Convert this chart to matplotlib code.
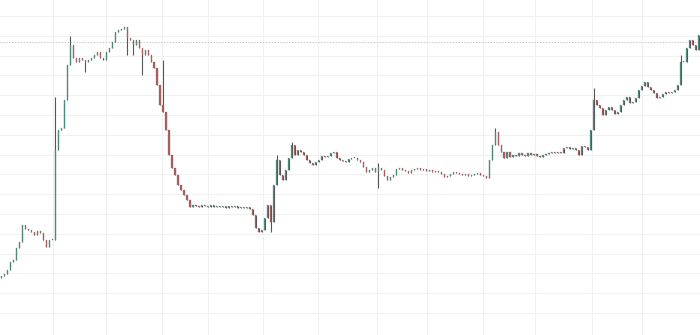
import matplotlib
matplotlib.use("Agg")
import matplotlib.pyplot as plt
import numpy as np

# Closing prices (arbitrary price units), one per candle
closes = [
    59, 61, 65, 73, 75, 87, 93, 110, 106, 105, 103, 100, 104, 102, 95, 88, 95, 95,
    185, 205, 207, 235, 270, 290, 277, 273, 277, 275, 273, 275, 277, 280, 283, 277,
    275, 283, 287, 293, 303, 305, 306, 308, 297, 295, 290, 295, 287, 280, 285, 280,
    273, 267, 250, 230, 223, 205, 180, 167, 160, 150, 145, 140, 135, 128, 130, 129,
    128, 130, 129, 128, 130, 128, 129, 128, 129, 127, 129, 128, 129, 127, 128, 127,
    128, 126, 120, 107, 103, 105, 117, 130, 113, 150, 175, 160, 155, 165, 177, 190,
    180, 185, 183, 180, 175, 172, 170, 173, 175, 179, 178, 179, 182, 183, 177, 175,
    174, 173, 176, 177, 177, 175, 173, 168, 163, 165, 167, 163, 167, 165, 159, 155,
    158, 160, 166, 167, 165, 164, 162, 165, 166, 167, 165, 166, 164, 165, 163, 164,
    163, 161, 158, 159, 161, 163, 162, 161, 160, 161, 159, 160, 161, 162, 160, 159,
    157, 175, 190, 203, 190, 183, 177, 183, 178, 180, 179, 182, 180, 179, 182, 180,
    181, 179, 178, 180, 181, 182, 183, 182, 183, 182, 187, 188, 186, 187, 185, 180,
    189, 188, 185, 205, 235, 230, 227, 220, 225, 228, 225, 221, 223, 230, 235, 238,
    232, 233, 237, 245, 249, 253, 248, 245, 242, 237, 238, 241, 243, 242, 243, 245,
    250, 273, 273, 287, 295, 290, 285, 300,
]
first_open = 57

# Notable wick extremes: candle index -> (high, low)
wick_extremes = {
    18: (238, 95), 23: (299, None), 28: (None, 263), 42: (None, 280),
    44: (None, 280), 47: (None, 260), 54: (275, None), 90: (None, 103),
    92: (180, None), 97: (193, None), 126: (172, 147), 165: (207, None),
    198: (247, None), 227: (280, None),
}

# Grid positions (time ticks in candle index, price levels)
time_ticks = [17.2, 35, 53.7, 69, 87.4, 105.8, 125.6, 142.3, 161, 178.4, 197.5, 214.2]
price_levels = [22, 41.8, 61.6, 81.4, 101.2, 121, 140.8, 160.6, 180.4, 200.2,
                220, 239.8, 259.6, 279.4, 299.2, 319]
last_price_line = 293

opens = [first_open] + closes[:-1]
n = len(closes)

fig = plt.figure(figsize=(7.0, 3.35), dpi=100)
ax = fig.add_axes([0, 0, 1, 1])
ax.set_xlim(-0.5, n - 0.5)
ax.set_ylim(0, 335)

for t in time_ticks:
    ax.axvline(t, color="#f1f1f1", lw=0.8, zorder=0)
for p in price_levels:
    ax.axhline(p, color="#f1f1f1", lw=0.8, zorder=0)
ax.axhline(last_price_line, color="#c8c8c8", lw=0.7, ls=(0, (1.5, 1.5)), zorder=1)

up_col = "#4d8a7c"
dn_col = "#a55f5c"
wick_col = "#555555"
for i in range(n):
    o, c = opens[i], closes[i]
    hi, lo = max(o, c), min(o, c)
    if i in wick_extremes:
        h, l = wick_extremes[i]
        if h is not None:
            hi = max(hi, h)
        if l is not None:
            lo = min(lo, l)
    col = up_col if c >= o else dn_col
    ax.vlines(i, lo, hi, color=wick_col, lw=0.8, zorder=2)
    ax.bar(i, max(abs(c - o), 0.8), bottom=min(o, c), width=0.38,
           color=col, edgecolor=col, linewidth=0.2, zorder=3)

ax.set_xticks([])
ax.set_yticks([])
for s in ax.spines.values():
    s.set_visible(False)

fig.savefig("out.png", dpi=100, facecolor="white")
